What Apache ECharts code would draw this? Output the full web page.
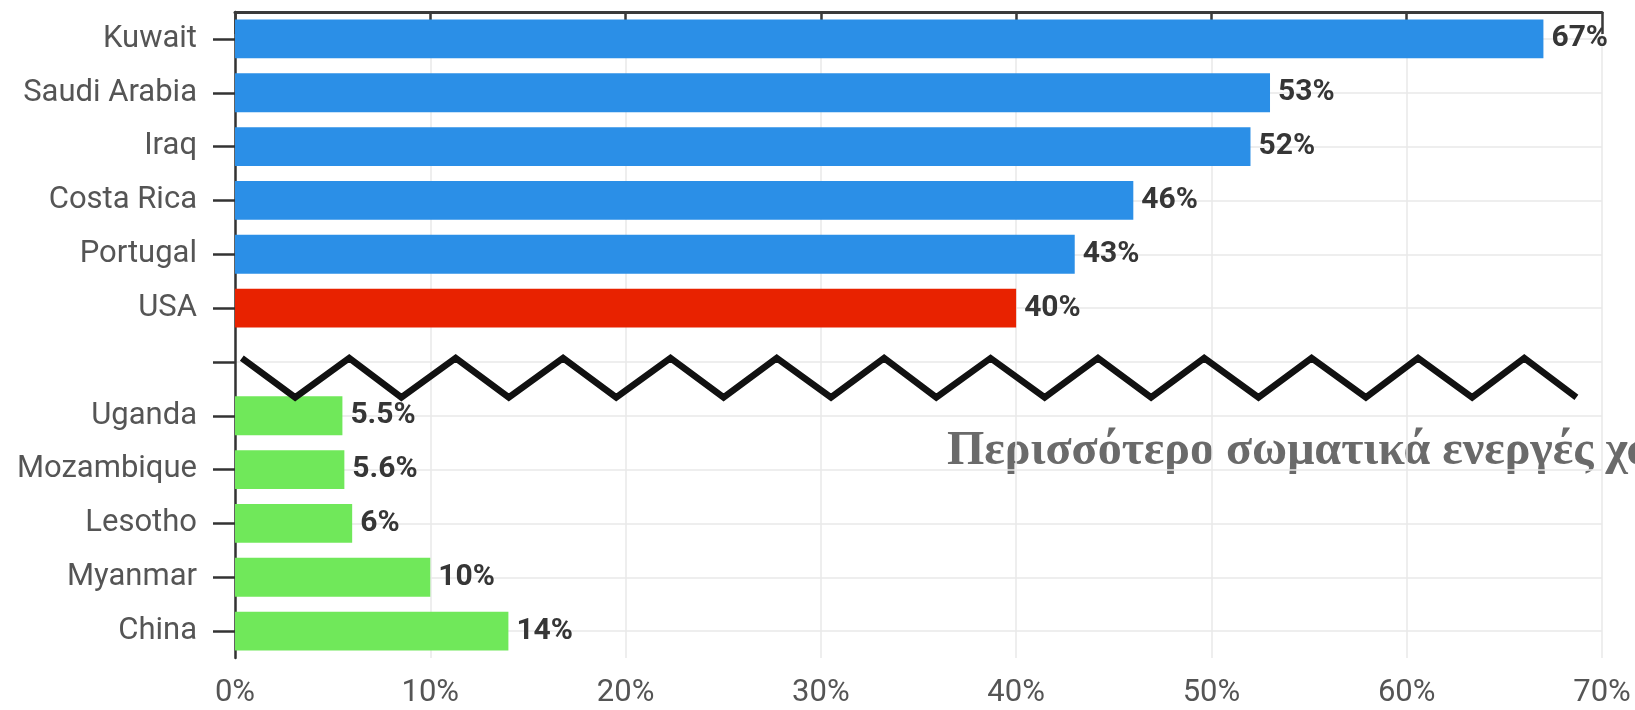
<!DOCTYPE html>
<html>
<head>
<meta charset="utf-8">
<title>Physical inactivity</title>
<script src="https://cdn.jsdelivr.net/npm/echarts@6/dist/echarts.min.js"></script>
<style>
  html, body { margin: 0; padding: 0; background: #fff; }
  #main { width: 1635px; height: 710px; }
</style>
</head>
<body>
<div id="main"></div>
<script>
// least active countries (top block)
var topCountries = ['Kuwait', 'Saudi Arabia', 'Iraq', 'Costa Rica', 'Portugal'];
var topValues = [67, 53, 52, 46, 43];
// USA
var usaName = 'USA';
var usaValue = 40;
// most active countries (bottom block)
var lowCountries = ['Uganda', 'Mozambique', 'Lesotho', 'Myanmar', 'China'];
var lowValues = [5.5, 5.6, 6, 10, 14];
// x axis ticks
var xTicks = [0, 10, 20, 30, 40, 50, 60, 70];
// the zigzag "break" line (x in %, y in category units)
var zigzagX = [0.35, 3.08, 5.85, 8.52, 11.3, 14.02, 16.8, 19.52, 22.3, 25.02, 27.74, 30.52, 33.24,
               35.91, 38.69, 41.46, 44.19, 46.91, 49.63, 52.41, 55.13, 57.91, 60.58, 63.35, 66.02, 68.69];
var zigzagPeak = 6.43;
var zigzagTrough = 7.16;

var caption = 'Περισσότερο σωματικά ενεργές χώρες';

var categories = topCountries.concat([usaName, ''], lowCountries);

var barData = [];
topValues.forEach(function (v) { barData.push({ value: v, itemStyle: { color: '#2b8fe7' } }); });
barData.push({ value: usaValue, itemStyle: { color: '#e82200' } });
barData.push({ value: null });
lowValues.forEach(function (v) { barData.push({ value: v, itemStyle: { color: '#70e85a' } }); });

var zigData = zigzagX.map(function (x, i) {
  return [x, i % 2 === 0 ? zigzagPeak : zigzagTrough];
});

var chart = echarts.init(document.getElementById('main'));

var option = {
  backgroundColor: '#fff',
  animation: false,
  grid: {
    left: 235, right: 33, top: 12, bottom: 52,
    containLabel: false,
    outerBoundsMode: 'none'
  },
  xAxis: {
    type: 'value',
    min: xTicks[0],
    max: xTicks[xTicks.length - 1],
    interval: 10,
    axisLine: { show: true, lineStyle: { color: '#3a3a3a', width: 3 } },
    axisTick: { show: true, length: 22, lineStyle: { color: '#3a3a3a', width: 2.5 } },
    axisLabel: {
      margin: 20,
      color: '#555',
      fontFamily: 'Roboto, sans-serif',
      fontSize: 31,
      formatter: '{value}%'
    },
    splitLine: { show: true, lineStyle: { color: '#e8e8e8', width: 1.5 } }
  },
  yAxis: [{
    type: 'category',
    data: categories,
    inverse: true,
    axisLine: { show: true, lineStyle: { color: '#333', width: 2.5 } },
    axisTick: { show: true, alignWithLabel: true, length: 22, lineStyle: { color: '#333', width: 2.5 } },
    axisLabel: {
      margin: 38,
      interval: 0,
      color: '#555',
      fontFamily: 'Roboto, sans-serif',
      fontSize: 31
    },
    splitLine: { show: true, alignWithLabel: true, interval: 0, lineStyle: { color: '#e8e8e8', width: 1.5 } }
  }, {
    type: 'value',
    min: 0,
    max: categories.length,
    inverse: true,
    show: false
  }],
  series: [{
    type: 'bar',
    yAxisIndex: 0,
    data: barData,
    barWidth: '72%',
    label: {
      show: true,
      position: 'right',
      distance: 8,
      color: '#363636',
      fontFamily: 'Roboto, sans-serif',
      fontWeight: 'bold',
      fontSize: 30,
      formatter: function (p) { return p.value + '%'; }
    }
  }, {
    type: 'line',
    yAxisIndex: 1,
    data: zigData,
    symbol: 'none',
    z: 5,
    lineStyle: { color: '#111', width: 6.5, join: 'miter' }
  }],
  graphic: [{
    type: 'group',
    left: 927,
    top: 408,
    children: [{
      type: 'rect',
      shape: { x: 0, y: 0, width: 720, height: 80 },
      style: { fill: '#fff' }
    }, {
      type: 'text',
      x: 20,
      y: 44,
      style: {
        text: caption,
        fill: '#6a6a6a',
        font: 'bold 48px "Liberation Serif", "DejaVu Serif", serif',
        verticalAlign: 'middle'
      }
    }]
  }]
};

chart.setOption(option);
</script>
</body>
</html>
